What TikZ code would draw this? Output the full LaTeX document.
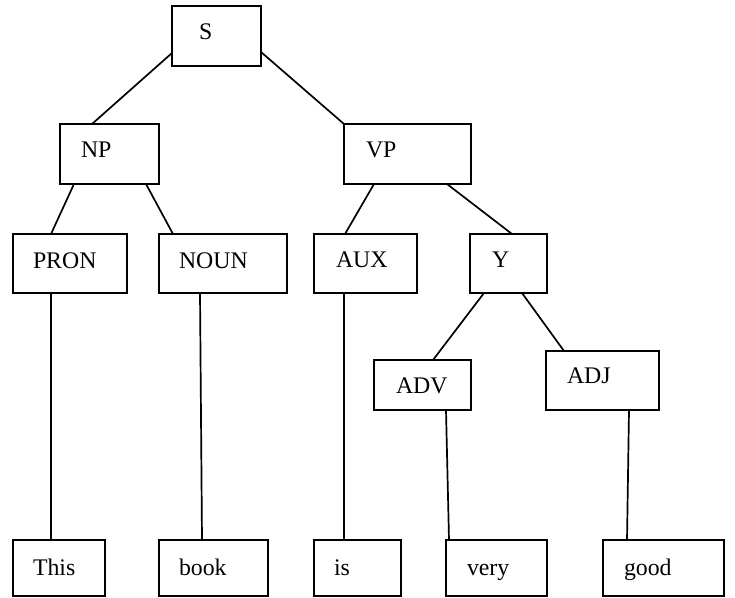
\documentclass[tikz,border=0pt]{standalone}
\usepackage{fontspec}
\setmainfont{Liberation Serif}
\usetikzlibrary{calc}
\begin{document}
\begin{tikzpicture}[x=1pt,y=-1pt,
  box/.style={draw=black,line width=1.7pt,fill=white,inner sep=0pt,outer sep=0pt},
  lbl/.style={anchor=base west,inner sep=0pt,outer sep=0pt,font=\fontsize{23.8}{28}\selectfont},
  edge/.style={draw=black,line width=1.7pt}]
\useasboundingbox (0,0) rectangle (735,597);
% boxes
\node[box,minimum width=89pt,minimum height=60pt] (S) at (216.5,36) {};
\node[box,minimum width=99pt,minimum height=60pt] (NP) at (109.5,154) {};
\node[box,minimum width=127pt,minimum height=60pt] (VP) at (407.5,154) {};
\node[box,minimum width=114pt,minimum height=59pt] (PRON) at (70,263.5) {};
\node[box,minimum width=128pt,minimum height=59pt] (NOUN) at (223,263.5) {};
\node[box,minimum width=103pt,minimum height=59pt] (AUX) at (365.5,263.5) {};
\node[box,minimum width=77pt,minimum height=59pt] (Y) at (508.5,263.5) {};
\node[box,minimum width=97pt,minimum height=50pt] (ADV) at (422.5,385) {};
\node[box,minimum width=113pt,minimum height=59pt] (ADJ) at (602.5,380.5) {};
\node[box,minimum width=92pt,minimum height=56pt] (This) at (59,568) {};
\node[box,minimum width=109pt,minimum height=56pt] (book) at (213.5,568) {};
\node[box,minimum width=87pt,minimum height=56pt] (is) at (357.5,568) {};
\node[box,minimum width=101pt,minimum height=56pt] (very) at (496.5,568) {};
\node[box,minimum width=121pt,minimum height=56pt] (good) at (663.5,568) {};
% labels
\node[lbl] (tS) at (199,39) {S};
\node[lbl] (tNP) at (81,157) {NP};
\node[lbl] (tVP) at (366,157) {VP};
\node[lbl] (tPRON) at (33,268) {PRON};
\node[lbl] (tNOUN) at (179,268) {NOUN};
\node[lbl] (tAUX) at (336,267) {AUX};
\node[lbl] (tY) at (492,267) {Y};
\node[lbl] (tADV) at (396,393) {ADV};
\node[lbl] (tADJ) at (567,383) {ADJ};
\node[lbl] (tThis) at (33,575) {This};
\node[lbl] (tbook) at (179,575) {book};
\node[lbl] (tis) at (334,575) {is};
\node[lbl] (tvery) at (467,575) {very};
\node[lbl] (tgood) at (624,575) {good};
% connectors
\draw[edge] ([yshift=13pt]S.south west) -- ([xshift=32pt]NP.north west);
\draw[edge] ([yshift=14pt]S.south east) -- (VP.north west);
\draw[edge] ([xshift=14pt]NP.south west) -- ([xshift=38pt]PRON.north west);
\draw[edge] ([xshift=-13pt]NP.south east) -- ([xshift=14pt]NOUN.north west);
\draw[edge] ([xshift=30pt]VP.south west) -- ([xshift=31pt]AUX.north west);
\draw[edge] ([xshift=-24pt]VP.south east) -- ([xshift=42pt]Y.north west);
\draw[edge] ([xshift=14pt]Y.south west) -- ([xshift=59pt]ADV.north west);
\draw[edge] ([xshift=-25pt]Y.south east) -- ([xshift=18pt]ADJ.north west);
\draw[edge] ([xshift=38pt]PRON.south west) -- ([xshift=38pt]This.north west);
\draw[edge] ([xshift=41pt]NOUN.south west) -- ([xshift=43pt]book.north west);
\draw[edge] ([xshift=30pt]AUX.south west) -- ([xshift=30pt]is.north west);
\draw[edge] ([xshift=72pt]ADV.south west) -- ([xshift=3pt]very.north west);
\draw[edge] ([xshift=83pt]ADJ.south west) -- ([xshift=24pt]good.north west);
\end{tikzpicture}
\end{document}
